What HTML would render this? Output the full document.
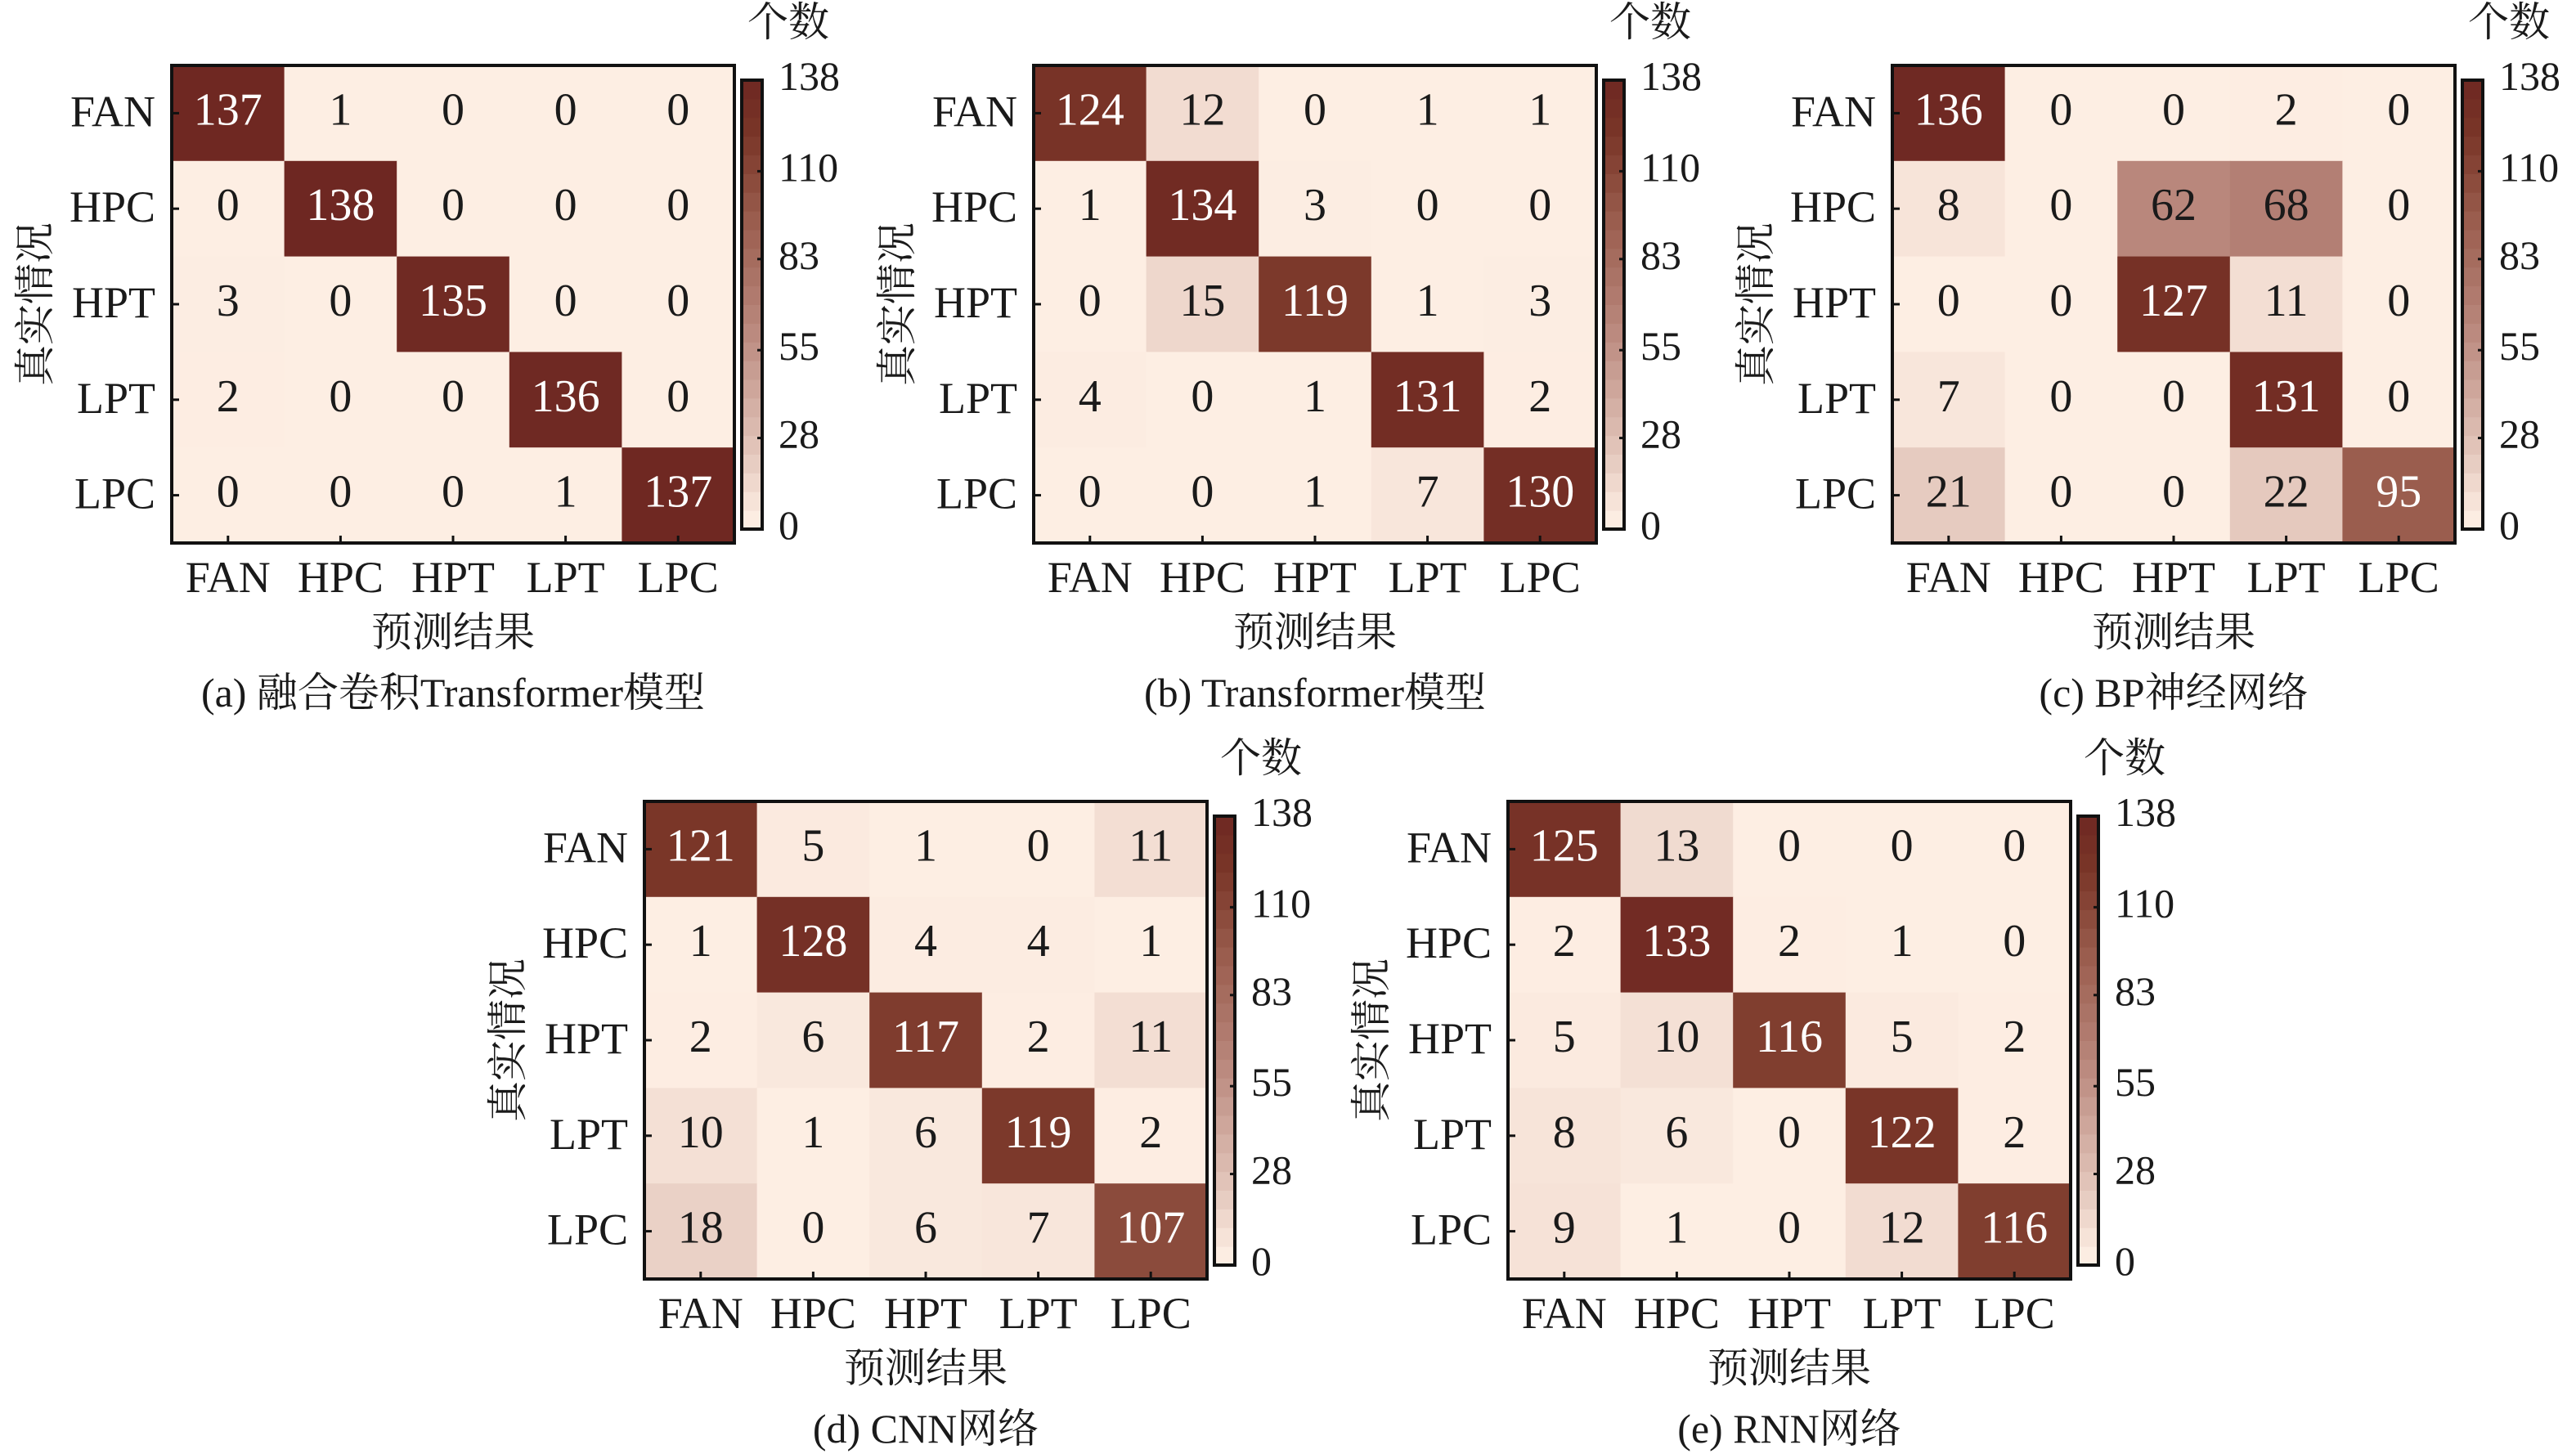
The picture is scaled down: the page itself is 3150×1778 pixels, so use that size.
<!DOCTYPE html>
<html><head><meta charset="utf-8">
<style>
html,body{margin:0;padding:0;background:#fff;}
svg{display:block;}
text{font-family:"Liberation Serif","Noto Serif CJK SC",serif;fill:#1a1a1a;}
</style></head>
<body>
<svg id="fig" width="3150" height="1778" viewBox="0 0 3150 1778" xmlns="http://www.w3.org/2000/svg"></svg>
<script>
const classes = ["FAN","HPC","HPT","LPT","LPC"];
const cbTicks = [0,28,55,83,110,138];
const maxVal = 138;
const matA = [[137,1,0,0,0],[0,138,0,0,0],[3,0,135,0,0],[2,0,0,136,0],[0,0,0,1,137]];
const matB = [[124,12,0,1,1],[1,134,3,0,0],[0,15,119,1,3],[4,0,1,131,2],[0,0,1,7,130]];
const matC = [[136,0,0,2,0],[8,0,62,68,0],[0,0,127,11,0],[7,0,0,131,0],[21,0,0,22,95]];
const matD = [[121,5,1,0,11],[1,128,4,4,1],[2,6,117,2,11],[10,1,6,119,2],[18,0,6,7,107]];
const matE = [[125,13,0,0,0],[2,133,2,1,0],[5,10,116,5,2],[8,6,0,122,2],[9,1,0,12,116]];
const captions = ["(a) 融合卷积Transformer模型","(b) Transformer模型","(c) BP神经网络","(d) CNN网络","(e) RNN网络"];

const NS="http://www.w3.org/2000/svg";
const svg=document.getElementById('fig');
const stops=[[0,[253,238,227]],[4,[252,236,225]],[21,[230,203,192]],[62,[185,135,124]],[95,[154,93,78]],[121,[122,54,40]],[138,[110,39,34]]];
function color(v){
  for(let i=1;i<stops.length;i++){
    if(v<=stops[i][0]){
      const a=stops[i-1],b=stops[i];const t=(v-a[0])/(b[0]-a[0]);
      const c=a[1].map((x,k)=>Math.round(x+(b[1][k]-x)*t));
      return `rgb(${c[0]},${c[1]},${c[2]})`;
    }
  }
  return 'rgb(110,39,34)';
}
function el(tag,attrs,parent){const e=document.createElementNS(NS,tag);for(const k in attrs)e.setAttribute(k,attrs[k]);(parent||svg).appendChild(e);return e;}
function txt(s,attrs,parent){const t=el('text',attrs,parent);t.textContent=s;return t;}

function panel(mat,px,py,cap,id){
  const W=688,H=584,n=classes.length,cw=W/n,ch=H/n;
  const g=el('g',{});
  
  
  const xs=i=>px+i*cw, ys=j=>py+j*ch;
  for(let r=0;r<n;r++)for(let c=0;c<n;c++){
    const v=mat[r][c];
    const rc=el('rect',{x:xs(c),y:ys(r),width:cw+0.5,height:ch+0.5,fill:color(v)},g);
    
    
    const t=txt(String(v),{x:xs(c)+cw/2,y:ys(r)+ch/2+14,'text-anchor':'middle','font-size':56},g);
    t.setAttribute('style','fill:'+(v>80?'#fff':'#1a1a1a'));
    
    
  }
  el('path',{d:`M${px} ${py}H${px+W}V${py+H}H${px}Z`,fill:'none',stroke:'#111','stroke-width':4},g);
  for(let i=0;i<n;i++){
    el('line',{x1:px,x2:px+9,y1:ys(i)+ch/2,y2:ys(i)+ch/2,stroke:'#111','stroke-width':3},g);
    el('line',{x1:xs(i)+cw/2,x2:xs(i)+cw/2,y1:py+H,y2:py+H-9,stroke:'#111','stroke-width':3},g);
    const yl=txt(classes[i],{x:px-20,y:ys(i)+ch/2+16,'text-anchor':'end','font-size':54},g);
    
    
    const xl=txt(classes[i],{x:xs(i)+cw/2,y:py+H+60,'text-anchor':'middle','font-size':54},g);
    
    
  }
  const xt=txt('预测结果',{x:px+W/2,y:py+H+126,'text-anchor':'middle','font-size':50},g);
  
  
  const yt=txt('真实情况',{x:0,y:0,'text-anchor':'middle','font-size':50,transform:`translate(${px-150},${py+H/2}) rotate(-90)`},g);
  
  
  const cp=txt(cap,{x:px+W/2,y:py+H+200,'text-anchor':'middle','font-size':50},g);
  
  
  const cx=px+W+9,cy0=py+18,cy1=py+H-17,cbw=25,ch2=cy1-cy0;
  const bands=24;
  for(let b=0;b<bands;b++){
    const v=(b+0.5)/bands*maxVal;
    el('rect',{x:cx,y:cy1-(b+1)*ch2/bands,width:cbw,height:ch2/bands+0.5,fill:color(v)},g);
  }
  const cbf=el('rect',{x:cx,y:cy0,width:cbw,height:ch2,fill:'none',stroke:'#111','stroke-width':4},g);
  
  
  const cby=v=>cy1-v/maxVal*ch2;
  cbTicks.forEach(v=>{
    el('line',{x1:cx+cbw,x2:cx+cbw-6,y1:cby(v),y2:cby(v),stroke:'#111','stroke-width':3},g);
    const tl=txt(String(v),{x:cx+cbw+20,y:cby(v)+12,'font-size':50},g);
    
    
  });
  const ct=txt('个数',{x:cx+cbw+32,y:py-36,'text-anchor':'middle','font-size':50},g);
  
  
}
panel(matA,210,80,captions[0],'a');
panel(matB,1264,80,captions[1],'b');
panel(matC,2314,80,captions[2],'c');
panel(matD,788,980,captions[3],'d');
panel(matE,1844,980,captions[4],'e');
</script>
</body></html>
